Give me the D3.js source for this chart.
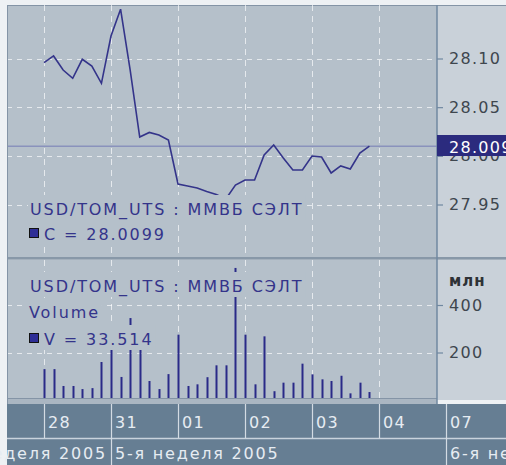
<!DOCTYPE html>
<html>
<head>
<meta charset="utf-8">
<script src="https://cdn.jsdelivr.net/npm/d3@7/dist/d3.min.js"></script>
<style>
  body { margin: 0; background: #eef1f4; }
  svg { display: block; font-family: "DejaVu Sans", sans-serif; }
</style>
</head>
<body>
<div id="graph"></div>
<script>
// hourly points, 7 per trading day, starting at 28 Jan
var price = [28.0957, 28.1026, 28.0882, 28.0797, 28.0992, 28.0923, 28.0745,
             28.1231, 28.1506, 28.0882, 28.0193, 28.0240, 28.0214, 28.0163,
             27.9711, 27.9690, 27.9670, 27.9633, 27.9603, 27.9556, 27.9700,
             27.9752, 27.9752, 28.0009, 28.0111, 27.9978, 27.9854, 27.9854,
             27.9998, 27.9988, 27.9824, 27.9896, 27.9865, 28.0029, 28.0099];
var volume = [130, 130, 59, 59, 46, 50, 160,
              215, 97, 345, 215, 80, 46, 109,
              275, 59, 66, 96, 146, 146, 556,
              275, 66, 268, 37, 73, 73, 153,
              108, 87, 80, 102, 28, 73, 33.514];
var dayLabels = ["28", "31", "01", "02", "03", "04", "07"];
var dayIndex = [0, 7, 14, 21, 28, 35, 42];
var weekLabels = ["4-я неделя 2005", "5-я неделя 2005", "6-я неделя 2005"];
var weekStart = [-7, 7, 42];
var priceTicks = [27.95, 28.00, 28.05, 28.10];
var volumeTicks = [200, 400];
var lastPrice = 28.0099;
var lastVolume = 33.514;
var title = "USD/TOM_UTS : ММВБ СЭЛТ";

var width = 506, height = 465;
var left = 7, plotRight = 437;
var top1 = 5, bot1 = 257, top2 = 260, bot2 = 398;
var panelBg = "#b5c0ca", axisBg = "#c9d1d9", bandBg = "#667e93";
var ink = "#34348a";

var svg = d3.select('#graph').append('svg')
  .attr('width', width).attr('height', height);

var x = d3.scaleLinear().domain([0, 42]).range([44, 446]);
var yP = d3.scaleLinear().domain([27.95, 28.10]).range([204.5, 58.5]);
var yV = d3.scaleLinear().domain([0, 400]).range([400, 305]);

// backgrounds
svg.append('rect').attr('x', left).attr('y', top1).attr('width', width - left).attr('height', 400 - top1).attr('fill', axisBg);
svg.append('rect').attr('x', left).attr('y', top1).attr('width', plotRight - left).attr('height', bot1 - top1).attr('fill', panelBg);
svg.append('rect').attr('x', left).attr('y', top2).attr('width', plotRight - left).attr('height', bot2 - top2).attr('fill', panelBg);
svg.append('rect').attr('x', left).attr('y', bot1).attr('width', width - left).attr('height', top2 - bot1).attr('fill', '#a4b0bc');
svg.append('line').attr('x1', left).attr('x2', width).attr('y1', bot1 + 1).attr('y2', bot1 + 1).attr('stroke', '#7f90a2').attr('stroke-width', 1.5);
svg.append('rect').attr('x', left).attr('y', bot2).attr('width', plotRight - left).attr('height', 6).attr('fill', '#aab6c2');
svg.append('line').attr('x1', left).attr('x2', plotRight).attr('y1', bot2 + 0.5).attr('y2', bot2 + 0.5).attr('stroke', '#8494a6');
svg.append('line').attr('x1', left + 0.5).attr('x2', left + 0.5).attr('y1', top1).attr('y2', 404).attr('stroke', '#8494a6');
svg.append('line').attr('x1', left).attr('x2', width).attr('y1', top1 + 0.5).attr('y2', top1 + 0.5).attr('stroke', '#8494a6');

svg.append('defs').selectAll('clipPath')
  .data([[top1, bot1], [top2, bot2]]).enter()
  .append('clipPath').attr('id', function(d, i) { return 'clip' + i; })
  .append('rect').attr('x', left + 1).attr('y', function(d) { return d[0]; })
  .attr('width', plotRight - left - 1).attr('height', function(d) { return d[1] - d[0]; });

var gridColor = 'rgba(255,255,255,0.65)';
var vDays = dayIndex.filter(function(d) { return x(d) < plotRight; });

// top panel
var p1 = svg.append('g').attr('clip-path', 'url(#clip0)');
p1.selectAll('.hg').data(priceTicks).enter().append('line')
  .attr('x1', left).attr('x2', plotRight)
  .attr('y1', function(d) { return Math.round(yP(d)) + 0.5; })
  .attr('y2', function(d) { return Math.round(yP(d)) + 0.5; })
  .attr('stroke', gridColor).attr('stroke-dasharray', '5,5');
p1.selectAll('.vg').data(vDays).enter().append('line')
  .attr('x1', function(d) { return Math.round(x(d)) + 0.5; })
  .attr('x2', function(d) { return Math.round(x(d)) + 0.5; })
  .attr('y1', top1).attr('y2', bot1)
  .attr('stroke', gridColor).attr('stroke-dasharray', '6,5');
p1.append('line').attr('x1', left).attr('x2', plotRight)
  .attr('y1', yP(lastPrice)).attr('y2', yP(lastPrice))
  .attr('stroke', '#8a92bc').attr('stroke-width', 1.5);
p1.append('path').datum(price)
  .attr('d', d3.line().x(function(d, i) { return x(i); }).y(function(d) { return yP(d); }))
  .attr('fill', 'none').attr('stroke', ink).attr('stroke-width', 1.6);

// volume panel
var p2 = svg.append('g').attr('clip-path', 'url(#clip1)');
p2.selectAll('.hg').data(volumeTicks).enter().append('line')
  .attr('x1', left).attr('x2', plotRight)
  .attr('y1', function(d) { return Math.round(yV(d)) + 0.5; })
  .attr('y2', function(d) { return Math.round(yV(d)) + 0.5; })
  .attr('stroke', gridColor).attr('stroke-dasharray', '5,5');
p2.selectAll('.vg').data(vDays).enter().append('line')
  .attr('x1', function(d) { return Math.round(x(d)) + 0.5; })
  .attr('x2', function(d) { return Math.round(x(d)) + 0.5; })
  .attr('y1', top2).attr('y2', bot2)
  .attr('stroke', gridColor).attr('stroke-dasharray', '6,5');
p2.selectAll('.bar').data(volume).enter().append('rect')
  .attr('x', function(d, i) { return Math.round(x(i)) - 0.5; })
  .attr('y', function(d) { return yV(d); })
  .attr('width', 2)
  .attr('height', function(d) { return yV(0) - yV(d); })
  .attr('fill', '#2a2a88');

// legends with opaque boxes
function legend(g, rows) {
  rows.forEach(function(r) {
    var t = g.append('text').attr('x', r.x).attr('y', r.y)
      .attr('font-size', 16).attr('letter-spacing', 1.9).attr('fill', ink).text(r.text);
    var b = t.node().getBBox();
    g.insert('rect', 'text').attr('x', r.marker ? 27 : b.x - 2).attr('y', r.y - 20)
      .attr('width', b.x + b.width + 2 - (r.marker ? 27 : b.x - 2)).attr('height', 25)
      .attr('fill', panelBg);
    if (r.marker) {
      g.append('rect').attr('x', 29.5).attr('y', r.y - 11.5).attr('width', 9).attr('height', 9)
        .attr('fill', '#2e2e96').attr('stroke', '#111').attr('stroke-width', 1);
    }
  });
}
legend(svg.append('g'), [
  { x: 30, y: 215, text: title },
  { x: 44, y: 240, text: 'C = ' + lastPrice.toFixed(4), marker: true }
]);
legend(svg.append('g'), [
  { x: 30, y: 292, text: title },
  { x: 29, y: 318, text: 'Volume' },
  { x: 44, y: 345, text: 'V = ' + lastVolume, marker: true }
]);

// right axes
function styleAxis(g) {
  g.select('.domain').remove();
  g.selectAll('line').attr('stroke', '#7088a0').attr('stroke-width', 1.2);
  g.selectAll('text').attr('fill', '#3e464e').attr('font-size', 16)
    .attr('letter-spacing', 1.3).attr('x', 12)
    .attr('font-family', '"DejaVu Sans", sans-serif');
}
svg.append('g').attr('transform', 'translate(' + plotRight + ',0)')
  .call(d3.axisRight(yP).tickValues(priceTicks).tickSize(6).tickFormat(d3.format('.2f')))
  .call(styleAxis);
svg.append('g').attr('transform', 'translate(' + plotRight + ',0)')
  .call(d3.axisRight(yV).tickValues(volumeTicks).tickSize(6).tickFormat(d3.format('d')))
  .call(styleAxis);
svg.append('line').attr('x1', plotRight).attr('x2', plotRight).attr('y1', top1).attr('y2', 404)
  .attr('stroke', '#7088a0').attr('stroke-width', 1.5);
svg.append('text').attr('x', 449).attr('y', 286).attr('font-size', 15).attr('font-weight', 'bold')
  .attr('letter-spacing', 1).attr('fill', '#2e3236').text('млн');

// current price tag
svg.append('rect').attr('x', plotRight).attr('y', 135).attr('width', width - plotRight).attr('height', 21)
  .attr('fill', '#2b2b7e');
svg.append('text').attr('x', 449).attr('y', 153).attr('font-size', 16).attr('letter-spacing', 1.3)
  .attr('fill', '#ffffff').text(lastPrice.toFixed(4));

// date bands
svg.append('rect').attr('x', left).attr('y', 404).attr('width', width - left).attr('height', height - 404)
  .attr('fill', bandBg);
svg.append('line').attr('x1', left).attr('x2', width).attr('y1', 438.5).attr('y2', 438.5)
  .attr('stroke', '#c9d3dd').attr('stroke-width', 1.5);
svg.selectAll('.dt').data(dayIndex).enter().append('line')
  .attr('x1', function(d) { return Math.round(x(d)) + 0.5; })
  .attr('x2', function(d) { return Math.round(x(d)) + 0.5; })
  .attr('y1', 404).attr('y2', 438).attr('stroke', '#d3dbe3').attr('stroke-width', 1.2);
svg.selectAll('.dl').data(dayIndex).enter().append('text')
  .attr('x', function(d) { return x(d) + 4; }).attr('y', 428)
  .attr('font-size', 16).attr('letter-spacing', 1.3).attr('fill', '#e6ecf2')
  .text(function(d, i) { return dayLabels[i]; });
svg.selectAll('.wt').data(weekStart.slice(1)).enter().append('line')
  .attr('x1', function(d) { return Math.round(x(d)) + 0.5; })
  .attr('x2', function(d) { return Math.round(x(d)) + 0.5; })
  .attr('y1', 438).attr('y2', height).attr('stroke', '#d3dbe3').attr('stroke-width', 1.2);
svg.selectAll('.wl').data(weekStart).enter().append('text')
  .attr('x', function(d, i) { return i === 0 ? x(weekStart[1]) - 4 : x(d) + 4; })
  .attr('y', 459).attr('text-anchor', function(d, i) { return i === 0 ? 'end' : 'start'; })
  .attr('font-size', 16).attr('letter-spacing', 1.8).attr('fill', '#e6ecf2')
  .text(function(d, i) { return weekLabels[i]; });
</script>
</body>
</html>
